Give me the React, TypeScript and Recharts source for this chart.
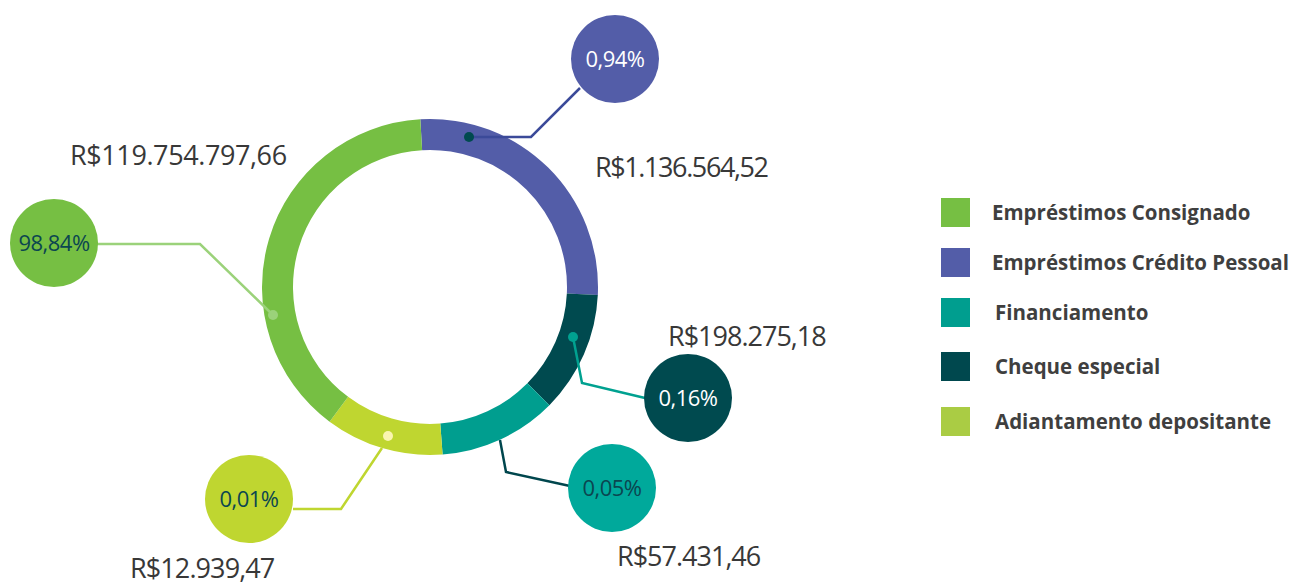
import React from 'react'
import { PieChart, Pie, Cell, Legend } from 'recharts'

// ring order, clockwise from the top
const categories = [
  'Empréstimos Crédito Pessoal',
  'Cheque especial',
  'Financiamento',
  'Adiantamento depositante',
  'Empréstimos Consignado',
]
// degrees of ring each slice takes in the picture (the drawing is not to scale)
const arcDegrees = [96, 42, 41, 41, 140]
const amounts = ['R$1.136.564,52', 'R$198.275,18', 'R$57.431,46', 'R$12.939,47', 'R$119.754.797,66']
const percents = ['0,94%', '0,16%', '0,05%', '0,01%', '98,84%']

const legendOrder = [
  'Empréstimos Consignado',
  'Empréstimos Crédito Pessoal',
  'Financiamento',
  'Cheque especial',
  'Adiantamento depositante',
]

const ringColors = ['#535DA8', '#004A4F', '#009E8F', '#BFD630', '#76BF43']
const legendColors: Record<string, string> = {
  'Empréstimos Consignado': '#76BF43',
  'Empréstimos Crédito Pessoal': '#535DA8',
  'Financiamento': '#009E8F',
  'Cheque especial': '#00484E',
  'Adiantamento depositante': '#AACC44',
}

// callout layout per slice: leader path, dot, bubble and amount label
const callouts = [
  {
    path: '469,137 531,137 580,88', line: '#3B4A99', dot: [469, 137], dotFill: '#004A4F',
    bubble: [615, 59], bubbleFill: '#535DA8', textFill: '#FFFFFF',
    amount: [595, 177], spacing: -1.4,
  },
  {
    path: '573,337 582,383 645,398', line: '#00A190', dot: [573, 337], dotFill: '#00A190',
    bubble: [688, 398], bubbleFill: '#004A4F', textFill: '#FFFFFF',
    amount: [668, 346], spacing: -1.0,
  },
  {
    path: '500,440 506,472 570,486', line: '#00464D', dot: null, dotFill: '',
    bubble: [612, 488], bubbleFill: '#00A99B', textFill: '#0B4650',
    amount: [617, 566], spacing: -1.0,
  },
  {
    path: '382,448 341,509 293,509', line: '#BFD630', dot: [388, 436], dotFill: '#FAF5B0',
    bubble: [249, 499], bubbleFill: '#BFD630', textFill: '#0B4650',
    amount: [130, 578], spacing: -0.9,
  },
  {
    path: '273,315 200,244 97,244', line: '#9BD27A', dot: [273, 315], dotFill: '#9BD27A',
    bubble: [54, 243], bubbleFill: '#76BF43', textFill: '#0B4650',
    amount: [70, 165], spacing: -0.4,
  },
]

const data = categories.map((name, i) => ({
  name,
  value: arcDegrees[i],
  amount: amounts[i],
  percent: percents[i],
}))

const FONT = '"Open Sans", "Noto Sans", sans-serif'

function renderCallout(props: any) {
  const i = props.index
  const c = callouts[i]
  return (
    <g key={`callout-${i}`}>
      <polyline points={c.path} fill="none" stroke={c.line} strokeWidth={2.5} />
      {c.dot && <circle cx={c.dot[0]} cy={c.dot[1]} r={5} fill={c.dotFill} />}
      <circle cx={c.bubble[0]} cy={c.bubble[1]} r={44} fill={c.bubbleFill} />
      <text
        x={c.bubble[0]}
        y={c.bubble[1] + 8}
        textAnchor="middle"
        fill={c.textFill}
        fontFamily={FONT}
        fontSize={22}
        letterSpacing={-0.5}
      >
        {data[i].percent}
      </text>
      <text
        x={c.amount[0]}
        y={c.amount[1]}
        fill="#383838"
        fontFamily={FONT}
        fontSize={27}
        letterSpacing={c.spacing}
      >
        {data[i].amount}
      </text>
    </g>
  )
}

const legendRows = [212, 262, 312, 366, 421]

function renderLegend() {
  return (
    <svg width={367} height={582} style={{ position: 'absolute', left: 0, top: 0 }}>
      {legendOrder.map((name, i) => (
        <g key={name}>
          <rect x={11} y={legendRows[i] - 14} width={29} height={29} fill={legendColors[name]} />
          <text
            x={i < 2 ? 62 : 65}
            y={legendRows[i] + 8}
            fill="#3F3F3F"
            fontFamily={FONT}
            fontWeight={700}
            fontSize={20.5}
            letterSpacing={0}
          >
            {name}
          </text>
        </g>
      ))}
    </svg>
  )
}

export default function App() {
  return (
    <div style={{ width: 1297, height: 582, background: '#FFFFFF' }}>
      <style>{'body{margin:0;}'}</style>
      <PieChart width={1297} height={582} margin={{ top: 0, right: 0, bottom: 0, left: 0 }}>
        <Pie
          data={data}
          dataKey="value"
          nameKey="name"
          cx={430}
          cy={287}
          innerRadius={137}
          outerRadius={168}
          startAngle={93.3}
          endAngle={-266.7}
          stroke="none"
          label={renderCallout}
          labelLine={false}
          isAnimationActive={false}
        >
          {data.map((d, i) => (
            <Cell key={d.name} fill={ringColors[i]} />
          ))}
        </Pie>
        <Legend
          layout="vertical"
          verticalAlign="top"
          align="right"
          wrapperStyle={{ left: 930, top: 0, width: 367, height: 582 }}
          content={renderLegend}
        />
      </PieChart>
    </div>
  )
}
